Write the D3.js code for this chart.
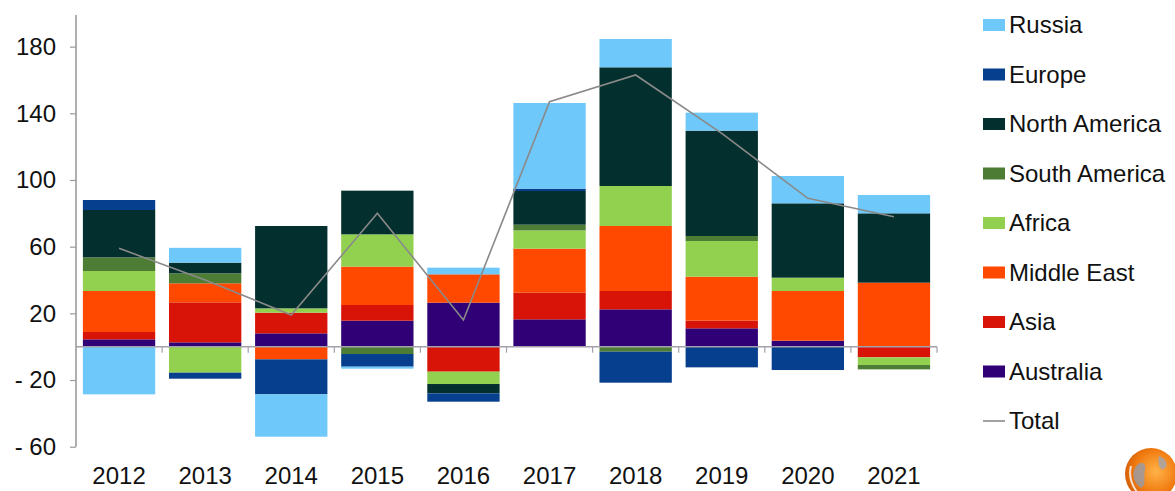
<!DOCTYPE html>
<html>
<head>
<meta charset="utf-8">
<script src="https://cdn.jsdelivr.net/npm/d3@7"></script>
<style>
  html, body { margin: 0; padding: 0; background: #fff; }
  svg { display: block; font-family: "Liberation Sans", Arial, sans-serif; }
</style>
</head>
<body>
<svg id="chart" width="1175" height="491"></svg>
<script>
// Years on the category axis
const years = ["2012", "2013", "2014", "2015", "2016", "2017", "2018", "2019", "2020", "2021"];

// Regional contributions per year (stack order: bottom to top)
const australia    = [4.4, 2.6, 8, 15.6, 26.4, 16.4, 22.4, 11, 3.6, 0];
const asia         = [4.4, 24, 12.4, 9.4, -15, 16, 11, 4.6, 0, -6.4];
const middleEast   = [24.6, 11.4, -7.6, 23, 17, 26.4, 39, 26.4, 29.8, 38.4];
const africa       = [12, -15.6, 2.6, 19.4, -7.4, 11, 24, 21.4, 8, -4.6];
const southAmerica = [8.2, 6, 0, -4.4, 0, 3.4, -3, 3, 0, -2.6];
const northAmerica = [28.4, 6.4, 49.4, 26.2, -5.6, 20.2, 71.2, 63.2, 44.6, 41.6];
const europe       = [6, -3.6, -21, -7.6, -5, 1.4, -18.6, -12.4, -14, 0];
const russia       = [-28.6, 8.9, -25.4, -1.2, 4, 51.4, 17, 10.8, 16.4, 11];

// Net total line
const total = [59, 40, 19, 80, 16, 147, 163, 128, 89, 78];

// Y axis tick values
const yTicks = [-60, -20, 20, 60, 100, 140, 180];

const seriesNames = ["Australia", "Asia", "Middle East", "Africa", "South America", "North America", "Europe", "Russia"];
const seriesValues = [australia, asia, middleEast, africa, southAmerica, northAmerica, europe, russia];
const colors = {
  "Russia": "#6ec8fa",
  "Europe": "#063f8e",
  "North America": "#03302e",
  "South America": "#4d7d34",
  "Africa": "#92d050",
  "Middle East": "#ff4800",
  "Asia": "#d81408",
  "Australia": "#300076"
};

const rows = years.map((y, i) => {
  const r = { year: y };
  seriesNames.forEach((n, k) => { r[n] = seriesValues[k][i]; });
  return r;
});

const svg = d3.select("#chart");
const plot = { left: 76, right: 937, top: 13.3, bottom: 446.7 };

const x = d3.scaleBand().domain(years).range([plot.left, plot.right])
  .paddingInner(0.16).paddingOuter(0.08);
const y = d3.scaleLinear().domain([-60, 200]).range([plot.bottom, plot.top]);

const stacked = d3.stack().keys(seriesNames).offset(d3.stackOffsetDiverging)(rows);

// Bars
svg.append("g").selectAll("g").data(stacked).join("g")
  .attr("fill", d => colors[d.key])
  .selectAll("rect").data(d => d).join("rect")
  .attr("x", d => x(d.data.year))
  .attr("width", x.bandwidth())
  .attr("y", d => y(Math.max(d[0], d[1])))
  .attr("height", d => Math.abs(y(d[0]) - y(d[1])));

// X axis baseline at zero with tick marks between categories
const axisColor = "#a4a0ac";
svg.append("line")
  .attr("x1", plot.left).attr("x2", plot.right)
  .attr("y1", y(0)).attr("y2", y(0))
  .attr("stroke", axisColor).attr("stroke-width", 1.6);
const boundaries = d3.range(1, years.length + 1).map(i => x.range()[0] + i * x.step());
svg.append("g").selectAll("line").data(boundaries).join("line")
  .attr("x1", d => d).attr("x2", d => d)
  .attr("y1", y(0)).attr("y2", y(0) + 6)
  .attr("stroke", axisColor).attr("stroke-width", 1.2);

// Y axis
const yAxis = d3.axisLeft(y).tickValues(yTicks).tickSize(6).tickPadding(14)
  .tickFormat(d => d < 0 ? "- " + Math.abs(d) : String(d));
const yg = svg.append("g").attr("transform", `translate(${plot.left},0)`).call(yAxis);
yg.select(".domain").remove();
yg.selectAll(".tick line").attr("stroke", "#9a9a9a").attr("stroke-width", 1.2);
yg.selectAll(".tick text").attr("fill", "#111").style("font-size", "24px")
  .style("font-family", "'Liberation Sans', Arial, sans-serif");
svg.append("line")
  .attr("x1", plot.left).attr("x2", plot.left)
  .attr("y1", 15).attr("y2", plot.bottom)
  .attr("stroke", "#9a9a9a").attr("stroke-width", 1.6);

// Year labels
svg.append("g").selectAll("text").data(years).join("text")
  .attr("x", d => x(d) + x.bandwidth() / 2)
  .attr("y", 484)
  .attr("text-anchor", "middle")
  .attr("fill", "#111")
  .style("font-size", "24px")
  .text(d => d);

// Total line
const line = d3.line()
  .x((d, i) => x(years[i]) + x.bandwidth() / 2)
  .y(d => y(d));
svg.append("path").datum(total)
  .attr("d", line)
  .attr("fill", "none")
  .attr("stroke", "#8a8a8a")
  .attr("stroke-width", 1.6);

// Legend
const legendItems = ["Russia", "Europe", "North America", "South America", "Africa", "Middle East", "Asia", "Australia", "Total"];
const lg = svg.append("g");
const item = lg.selectAll("g").data(legendItems).join("g")
  .attr("transform", (d, i) => `translate(983, ${25 + i * 49.5})`);
item.filter(d => d !== "Total").append("rect")
  .attr("x", 0).attr("y", -6).attr("width", 22).attr("height", 12)
  .attr("fill", d => colors[d]);
item.filter(d => d === "Total").append("line")
  .attr("x1", 0).attr("x2", 22).attr("y1", 0).attr("y2", 0)
  .attr("stroke", "#8a8a8a").attr("stroke-width", 1.6);
item.append("text")
  .attr("x", 26).attr("y", 0).attr("dy", "0.35em")
  .attr("fill", "#111").style("font-size", "24px")
  .text(d => d);

// Corner globe emblem
const defs = svg.append("defs");
const grad = defs.append("radialGradient").attr("id", "globe").attr("cx", "60%").attr("cy", "45%").attr("r", "60%");
grad.append("stop").attr("offset", "0%").attr("stop-color", "#ffb347");
grad.append("stop").attr("offset", "70%").attr("stop-color", "#f07a10");
grad.append("stop").attr("offset", "100%").attr("stop-color", "#d86008");
const globe = svg.append("g").attr("transform", "translate(1151,474)");
globe.append("circle").attr("r", 26).attr("fill", "url(#globe)");
globe.append("path").attr("d", "M-16,-6 C-12,-14 -4,-12 -6,-4 C-8,4 -4,10 -10,14 C-16,10 -20,2 -16,-6 Z").attr("fill", "#9a9aa2").attr("opacity", 0.85);
globe.append("path").attr("d", "M8,-18 C14,-16 18,-10 14,-6 C10,-2 6,-8 8,-18 Z").attr("fill", "#a4a4ac").attr("opacity", 0.85);
globe.append("path").attr("d", "M-20,-8 C-22,0 -20,10 -14,18").attr("fill", "none").attr("stroke", "#fff").attr("stroke-width", 2).attr("opacity", 0.8);
</script>
</body>
</html>
